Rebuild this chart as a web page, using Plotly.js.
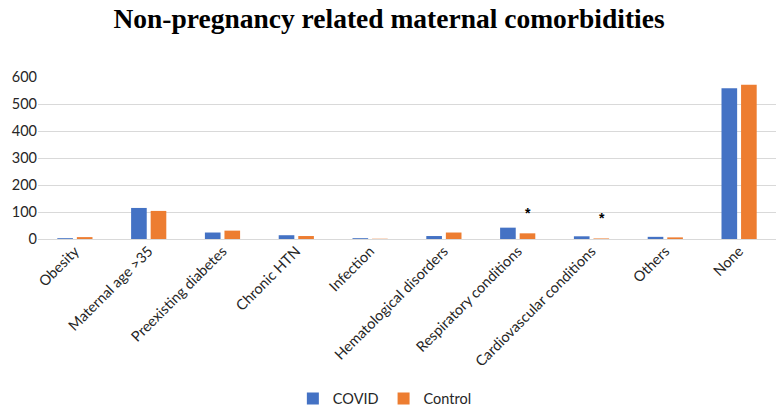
<!DOCTYPE html>
<html><head><meta charset="utf-8">
<script src="https://cdn.plot.ly/plotly-3.0.1.min.js"></script>
<style>html,body{margin:0;padding:0;background:#fff}#chart{width:778px;height:410px}</style>
</head><body><div id="chart"></div>
<script>
const categories = ["Obesity","Maternal age >35","Preexisting diabetes","Chronic HTN","Infection","Hematological disorders","Respiratory conditions","Cardiovascular conditions","Others","None"];
const covidValues = [3,115,24,14,3,11,42,10,8,558];
const controlValues = [7,104,31,11,1,24,21,2,6,571];
const significant = ["Respiratory conditions","Cardiovascular conditions"];
const yTicks = [0,100,200,300,400,500,600];

const font = "Lato, 'Open Sans', sans-serif";
const traces = [
  {type:"bar", name:"COVID", x:categories, y:covidValues, marker:{color:"#4472C4"}},
  {type:"bar", name:"Control", x:categories, y:controlValues, marker:{color:"#ED7D31"}}
];
const annotations = significant.map(c => ({
  x: c, y: controlValues[categories.indexOf(c)], xref:"x", yref:"y",
  text:"<b>*</b>", showarrow:false, xshift:10, yshift:20,
  font:{family:"Liberation Sans, Arial", size:14, color:"#000"}
}));
const layout = {
  width:778, height:410,
  margin:{l:38, r:2, t:77, b:171, autoexpand:false},
  paper_bgcolor:"#fff", plot_bgcolor:"#fff",
  title:{text:"<b>Non-pregnancy related maternal comorbidities</b>", x:0.5, xanchor:"center", y:0.955, yanchor:"middle",
    font:{family:"Liberation Serif, 'Times New Roman', serif", size:27.5, color:"#000"}},
  barmode:"group", bargap:0.47, bargroupgap:0.2,
  xaxis:{tickangle:-45, tickfont:{family:font, size:14.5, color:"#262626"}, showline:false, ticks:"", automargin:false},
  yaxis:{range:[0,600], tickvals:yTicks, showgrid:true, gridcolor:"#d9d9d9", gridwidth:1,
    zeroline:true, zerolinecolor:"#d9d9d9", zerolinewidth:1,
    tickfont:{family:font, size:14.5, color:"#262626"}, ticks:"", automargin:false},
  showlegend:true,
  legend:{orientation:"h", x:0.47, xanchor:"center", y:-0.985, yanchor:"middle", font:{family:font, size:14.5, color:"#262626"}, itemwidth:30, traceorder:"normal"},
  annotations: annotations
};
Plotly.newPlot("chart", traces, layout, {displayModeBar:false, staticPlot:true});
</script></body></html>
